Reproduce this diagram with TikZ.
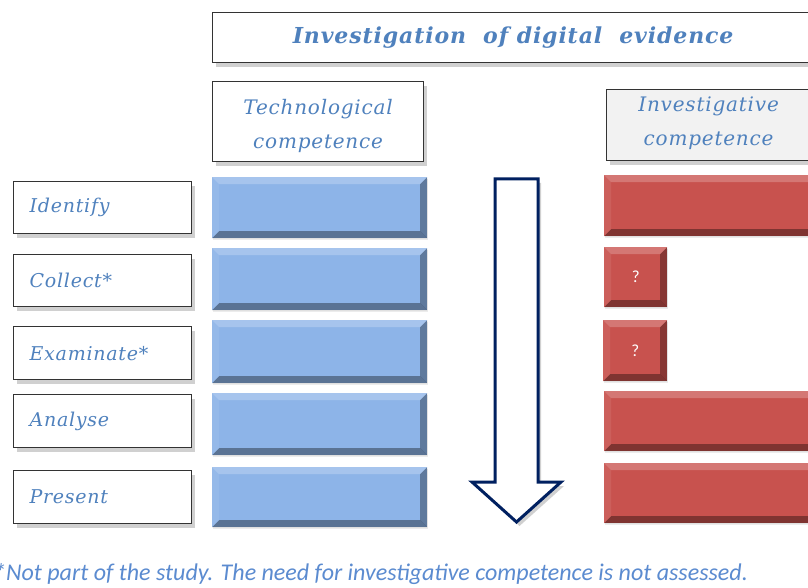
\documentclass[tikz,border=0pt]{standalone}
\usepackage{fontspec}
\setmainfont{DejaVu Serif}
\newfontfamily\camfont[LetterSpace=4]{DejaVu Serif}
\newfontfamily\calfont{Carlito}
\usetikzlibrary{shadows,calc}
\definecolor{txtblue}{HTML}{4F81BD}
\definecolor{notblue}{HTML}{5B8BD0}
\definecolor{boxblue}{HTML}{8DB4E8}
\definecolor{boxred}{HTML}{C8524E}
\definecolor{navy}{HTML}{002060}
\definecolor{lightgray}{HTML}{F2F2F2}
\newcommand\bevw{7pt}
\tikzset{
  shad/.style={drop shadow={shadow xshift=3pt,shadow yshift=-4pt,opacity=.30,fill=black!60}},
  lshad/.style={drop shadow={shadow xshift=1pt,shadow yshift=-2pt,opacity=.15,fill=black!50}},
  framebox/.style={draw=black!80,line width=1.2pt,fill=white,anchor=north west,shad,
    text=txtblue,inner sep=0pt},
  lbl/.style={framebox,minimum width=178pt,minimum height=52pt,text width=146pt,
    align=left,font=\camfont\itshape\fontsize{19}{22}\selectfont},
  hdr/.style={framebox,align=center,font=\camfont\itshape\fontsize{20}{34}\selectfont},
  bev/.style={fill=#1,draw=none,anchor=north west,inner sep=0pt,lshad,
    path picture={
      \coordinate (NW) at (path picture bounding box.north west);
      \coordinate (NE) at (path picture bounding box.north east);
      \coordinate (SW) at (path picture bounding box.south west);
      \coordinate (SE) at (path picture bounding box.south east);
      \fill[white,opacity=.22] (NW) -- (NE) -- ($(NE)+(-\bevw,-\bevw)$) -- ($(NW)+(\bevw,-\bevw)$) -- cycle;
      \fill[white,opacity=.08] (NW) -- ($(NW)+(\bevw,-\bevw)$) -- ($(SW)+(\bevw,\bevw)$) -- (SW) -- cycle;
      \fill[black,opacity=.36] (SW) -- ($(SW)+(\bevw,\bevw)$) -- ($(SE)+(-\bevw,\bevw)$) -- (SE) -- cycle;
      \fill[black,opacity=.32] (NE) -- (SE) -- ($(SE)+(-\bevw,\bevw)$) -- ($(NE)+(-\bevw,-\bevw)$) -- cycle;
    }},
  bluebar/.style={bev=boxblue,minimum width=215pt,minimum height=61pt},
  redbar/.style={bev=boxred,minimum width=230pt,minimum height=61pt},
  qbox/.style={bev=boxred,minimum width=63pt,minimum height=60pt,text=white,
    font=\calfont\fontsize{17}{19}\selectfont},
}
\begin{document}
\begin{tikzpicture}[x=1pt,y=-1pt]
\clip (0,0) rectangle (808,588);
\fill[white] (0,0) rectangle (808,588);
% title
\node[framebox,minimum width=601pt,minimum height=50pt,
  font=\camfont\bfseries\itshape\fontsize{22}{26}\selectfont] (title) at (212,12)
  {Investigation\ \ of digital\ \ evidence};
% headers
\node[hdr,minimum width=211pt,minimum height=80pt] (tech) at (212,81)
  {\rule{0pt}{24pt}Technological\\competence};
\node[hdr,fill=lightgray,minimum width=204pt,minimum height=71pt] (inv) at (606,89)
  {Investigative\\competence\rule[-7pt]{0pt}{1pt}};
% left labels
\node[lbl,minimum height=52pt] (identify) at (13,181) {Identify};
\node[lbl,minimum height=52pt] (collect) at (13,254) {Collect*};
\node[lbl,minimum height=53pt] (examinate) at (13,326) {Examinate*};
\node[lbl,minimum height=53pt] (analyse) at (13,394) {Analyse};
\node[lbl,minimum height=53pt] (present) at (13,470) {Present};
% blue bars
\node[bluebar] (b1) at (212,177) {};
\node[bluebar,minimum height=62pt] (b2) at (212,248) {};
\node[bluebar,minimum height=63pt] (b3) at (212,320) {};
\node[bluebar,minimum height=62pt] (b4) at (212,393) {};
\node[bluebar,minimum height=60pt] (b5) at (212,467) {};
% red bars
\node[redbar] (r1) at (604,175) {};
\node[qbox] (r2) at (604,247) {?};
\node[qbox,minimum width=64pt,minimum height=61pt] (r3) at (603,320) {?};
\node[redbar,minimum height=60pt] (r4) at (604,391) {};
\node[redbar,minimum height=60pt] (r5) at (604,463) {};
% arrow
\coordinate (sl) at (495,179);
\coordinate (sr) at (538,179);
\coordinate (hr) at (538,482);
\coordinate (hrr) at (561,482);
\coordinate (tip) at (516.5,522);
\coordinate (hll) at (472,482);
\coordinate (hl) at (495,482);
\draw[navy,line width=3pt,fill=white,line join=miter,shad]
  (sl) -- (sr) -- (hr) -- (hrr) -- (tip) -- (hll) -- (hl) -- cycle;
% footnote
\node[anchor=base west,inner sep=0pt,text=notblue,
  font=\calfont\itshape\fontsize{24}{27}\selectfont] (note) at (-6,580)
  {*Not part of the study. The need for investigative competence is not assessed.};
\end{tikzpicture}
\end{document}
